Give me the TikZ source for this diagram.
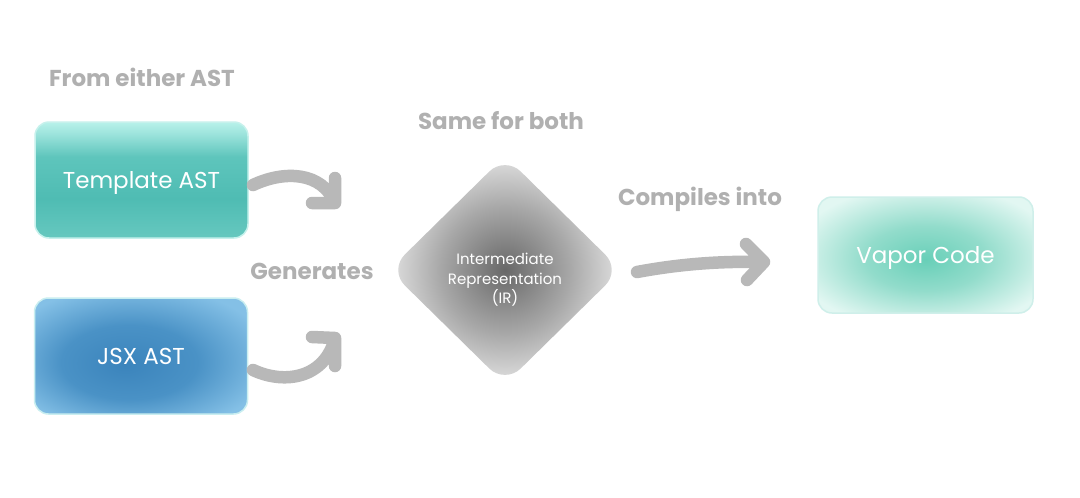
\documentclass[tikz,border=0pt]{standalone}
\usepackage{fontspec}
\setmainfont{Poppins}
\usetikzlibrary{shapes.geometric}
\definecolor{lbl}{HTML}{B0B0B0}
\definecolor{arrc}{HTML}{B8B8B8}
\definecolor{tplbot}{HTML}{66C8BF}
\definecolor{tplmid}{HTML}{4FBCB3}
\definecolor{tplmid2}{HTML}{5EC5BC}
\definecolor{tpltop}{HTML}{B8F1EA}
\definecolor{tplrim}{HTML}{C6F1EC}
\definecolor{jsxin}{HTML}{3B84BC}
\definecolor{jsxmid}{HTML}{4A92C6}
\definecolor{jsxout}{HTML}{84C0E6}
\definecolor{jsxrim}{HTML}{C9EEF0}
\definecolor{vapin}{HTML}{68CFB8}
\definecolor{vapmid}{HTML}{92DCCB}
\definecolor{vapout}{HTML}{E2F7F2}
\definecolor{vaprim}{HTML}{CFEFEA}
\definecolor{irin}{HTML}{686868}
\definecolor{irmid}{HTML}{A8A8A8}
\definecolor{irout}{HTML}{F0F0F0}
\pgfdeclareverticalshading{tplshade}{100bp}{color(0bp)=(tplbot); color(25bp)=(tplbot); color(42bp)=(tplmid); color(60bp)=(tplmid2); color(70bp)=(tpltop!70!tplmid2); color(75bp)=(tpltop); color(100bp)=(tpltop)}
\pgfdeclareradialshading{jsxshade}{\pgfpoint{-4bp}{-4bp}}{color(0bp)=(jsxin); color(16bp)=(jsxmid); color(32bp)=(jsxout); color(50bp)=(jsxout)}
\pgfdeclareradialshading{vapshade}{\pgfpoint{0bp}{-2bp}}{color(0bp)=(vapin); color(14bp)=(vapmid); color(31bp)=(vapout); color(50bp)=(vapout)}
\pgfdeclareradialshading{irshade}{\pgfpoint{0bp}{0bp}}{color(0bp)=(irin); color(14bp)=(irmid); color(28bp)=(irout); color(50bp)=(irout)}
\tikzset{
  lbltext/.style={text=lbl, font=\bfseries\fontsize{23}{27}\selectfont, inner sep=0pt},
  boxnode/.style={rounded corners=14pt, minimum width=213pt, minimum height=116pt, text=white, font=\fontsize{23}{27}\selectfont, text height=16pt, text depth=0pt, line width=1.5pt},
  arr/.style={draw=arrc, line width=12.5pt, line cap=round, line join=round},
}
\begin{document}
\begin{tikzpicture}[x=1pt,y=-1pt]
\useasboundingbox[fill=white] (0,0) rectangle (1080,498);
% labels
\node[lbltext] (lfrom) at (142,77) {From either AST};
\node[lbltext] (lsame) at (501,121) {Same for both};
\node[lbltext] (lgen) at (312,271) {Generates};
\node[lbltext] (lcomp) at (700,199) {Compiles into};
% boxes
\node[boxnode, shading=tplshade, draw=tplrim] (tpl) at (141.5,180) {Template AST};
\node[boxnode, shading=jsxshade, draw=jsxrim] (jsx) at (141,356) {JSX AST};
\node[boxnode, minimum width=215pt, shading=vapshade, draw=vaprim] (vap) at (925.5,255) {Vapor Code};
% diamond
\node[diamond, minimum width=232pt, minimum height=228pt, rounded corners=22pt, shading=irshade, inner sep=0pt] (ir) at (505,270) {};
\node[text=white, align=center, font=\fontsize{15}{19.5}\selectfont, inner sep=0pt] (irtext) at ([yshift=-10pt]ir.center) {Intermediate\\Representation\\(IR)};
% arrow anchors
\coordinate (a1s) at (253,185);
\coordinate (a1e) at (335,203);
\coordinate (a2s) at (253,370);
\coordinate (a2e) at (335,338);
\coordinate (a3s) at (637,272);
\coordinate (a3e) at (764,262);
% arrows
\draw[arr] (a1s) .. controls (285,170) and (322,172) .. (a1e) -- ++(-23,0) (a1e) -- ++(0,-25);
\draw[arr] (a2s) .. controls (285,385) and (325,378) .. (a2e) -- ++(-23,-1) (a2e) -- ++(0,28);
\draw[arr] (a3s) .. controls (680,264) and (720,261) .. (a3e) -- ++(-18,-18) (a3e) -- ++(-17,18);
\end{tikzpicture}
\end{document}
